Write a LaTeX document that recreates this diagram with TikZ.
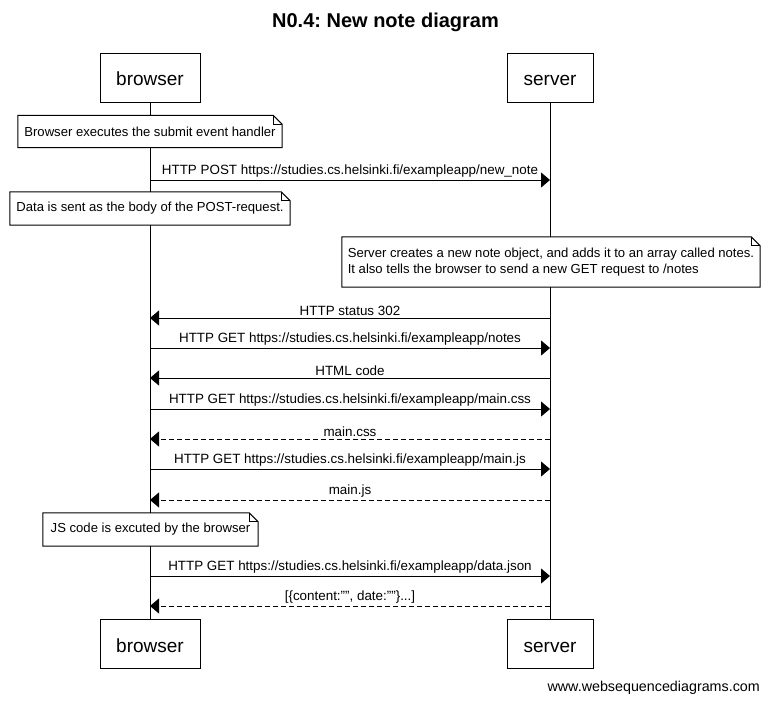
\documentclass[tikz,border=0pt]{standalone}
\usepackage{fontspec}
\setmainfont{Liberation Sans}
\frenchspacing
\usetikzlibrary{arrows.meta}
\tikzset{
  actor/.style={draw, line width=1pt, fill=white, inner sep=0pt, text height=16.5pt, text depth=0pt, font=\fontsize{19}{22}\selectfont},
  notebox/.style={fill=white, inner sep=0pt, font=\fontsize{13.1}{16}\selectfont, align=left},
  msg/.style={line width=1pt, -{Triangle[length=9pt,width=15pt]}},
  reply/.style={msg, dash pattern=on 5pt off 3pt},
  lbl/.style={above, inner sep=1.8pt, font=\fontsize{13.4}{16}\selectfont},
  life/.style={line width=1pt}
}
\newcommand\noteoutline[1]{%
  \draw[line width=1pt] (#1.south west) -- (#1.north west) -- ([xshift=-9pt]#1.north east)
    -- ([yshift=-9pt]#1.north east) -- (#1.south east) -- cycle;
  \draw[line width=0.8pt] ([xshift=-9pt]#1.north east) |- ([yshift=-9pt]#1.north east);}
\begin{document}
\begin{tikzpicture}[x=1pt,y=-1pt]
\useasboundingbox (0,0) rectangle (769,704);
\fill[white] (0,0) rectangle (769,704);
% title
\node[font=\bfseries\fontsize{20}{22}\selectfont] (title) at (385.5,22) {N0.4: New note diagram};
% actors
\node[actor, minimum width=100pt, minimum height=49pt] (bt) at (150,77.5) {browser};
\node[actor, minimum width=86pt, minimum height=49pt] (st) at (550,77.5) {server};
\node[actor, minimum width=100pt, minimum height=49pt] (bb) at (150,644) {browser};
\node[actor, minimum width=86pt, minimum height=49pt] (sb) at (550,644) {server};
% lifelines
\draw[life] (bt.south) -- (bb.north);
\draw[life] (st.south) -- (sb.north);
% coordinates on lifelines
\foreach \n/\y in {1/180,2/318,3/348,4/378,5/409,6/439,7/469,8/500,9/576,10/606}{
  \coordinate (b\n) at (150,\y);
  \coordinate (s\n) at (550,\y);
}
% notes
\node[notebox, minimum width=264pt, minimum height=32pt] (n1) at (150,131.5) {Browser executes the submit event handler};
\noteoutline{n1}
\node[notebox, minimum width=280pt, minimum height=33pt] (n2) at (150,208.5) {Data is sent as the body of the POST-request.};
\noteoutline{n2}
\node[notebox, minimum width=418pt, minimum height=50pt] (n3) at (551,262) {Server creates a new note object, and adds it to an array called notes.\\It also tells the browser to send a new GET request to /notes};
\noteoutline{n3}
\node[notebox, minimum width=215pt, minimum height=33pt] (n4) at (150.5,529.5) {JS code is excuted by the browser};
\noteoutline{n4}
% messages
\draw[msg] (b1) -- node[lbl] {HTTP POST https://studies.cs.helsinki.fi/exampleapp/new\_note} (s1);
\draw[msg] (s2) -- node[lbl] {HTTP status 302} (b2);
\draw[msg] (b3) -- node[lbl] {HTTP GET https://studies.cs.helsinki.fi/exampleapp/notes} (s3);
\draw[msg] (s4) -- node[lbl] {HTML code} (b4);
\draw[msg] (b5) -- node[lbl] {HTTP GET https://studies.cs.helsinki.fi/exampleapp/main.css} (s5);
\draw[reply] (s6) -- node[lbl] {main.css} (b6);
\draw[msg] (b7) -- node[lbl] {HTTP GET https://studies.cs.helsinki.fi/exampleapp/main.js} (s7);
\draw[reply] (s8) -- node[lbl] {main.js} (b8);
\draw[msg] (b9) -- node[lbl] {HTTP GET https://studies.cs.helsinki.fi/exampleapp/data.json} (s9);
\draw[reply] (s10) -- node[lbl] {[\{content:"", date:""\}...]} (b10);
% watermark
\node[anchor=east, inner sep=0pt, font=\fontsize{14.3}{16}\selectfont] (wm) at (760,688) {www.websequencediagrams.com};
\end{tikzpicture}
\end{document}
